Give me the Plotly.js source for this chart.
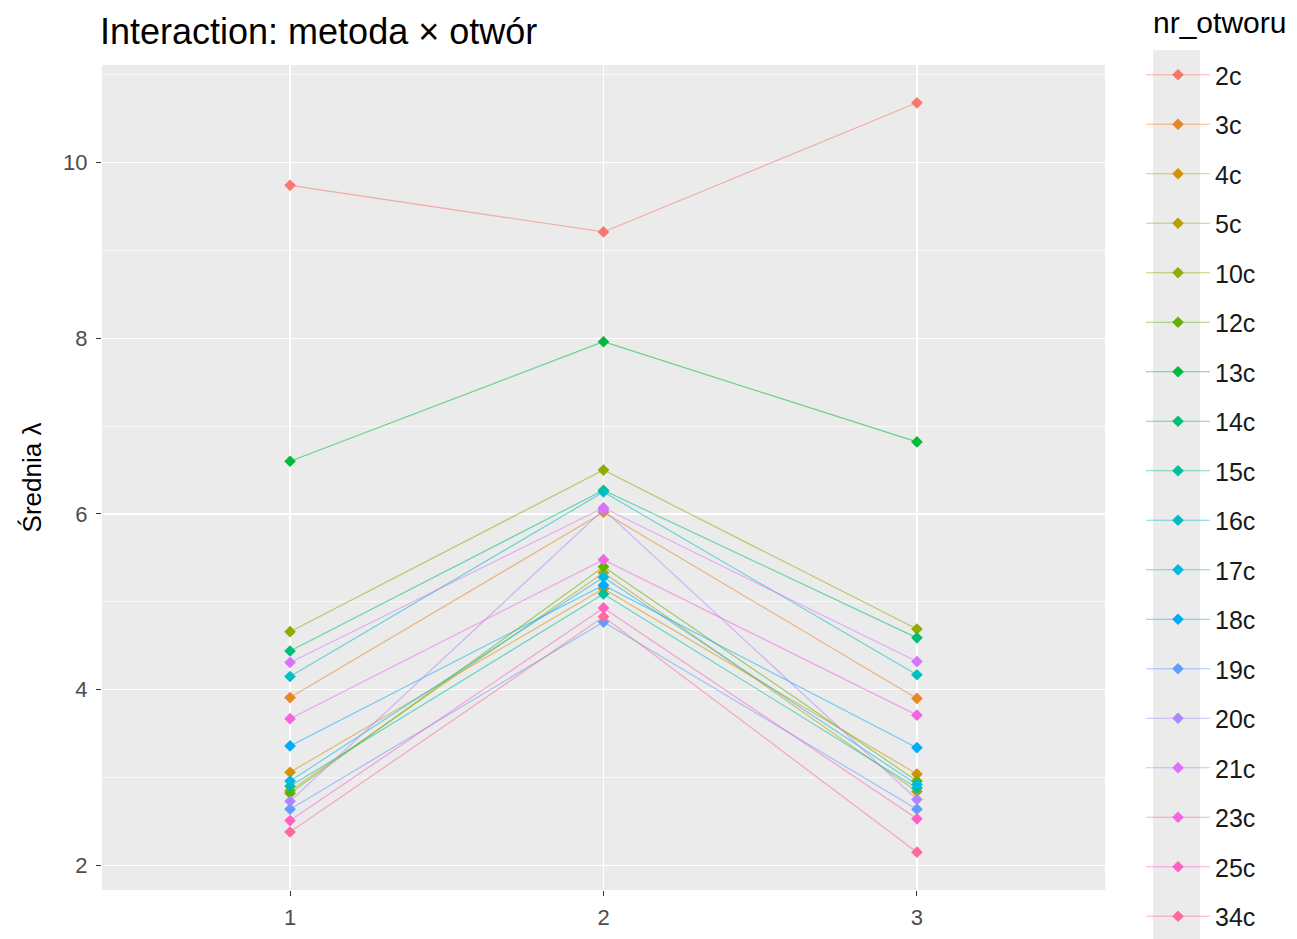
<!DOCTYPE html>
<html>
<head>
<meta charset="utf-8">
<script src="https://cdn.plot.ly/plotly-3.0.1.min.js"></script>
<style>
html,body{margin:0;padding:0;background:#fff;overflow:hidden;}
#chart{width:1297px;height:939px;}
</style>
</head>
<body>
<div id="chart"></div>
<script>
// ---- data ----
const metody = [1, 2, 3];
const otwory = ["2c","3c","4c","5c","10c","12c","13c","14c","15c","16c","17c","18c","19c","20c","21c","23c","25c","34c"];
const s2c  = [9.74, 9.21, 10.68];
const s3c  = [3.91, 6.02, 3.90];
const s4c  = [3.06, 5.15, 3.04];
const s5c  = [2.85, 5.33, 2.84];
const s10c = [4.66, 6.50, 4.69];
const s12c = [2.82, 5.40, 2.96];
const s13c = [6.60, 7.96, 6.82];
const s14c = [4.44, 6.27, 4.59];
const s15c = [2.90, 5.09, 2.88];
const s16c = [4.15, 6.25, 4.17];
const s17c = [2.96, 5.28, 2.92];
const s18c = [3.36, 5.19, 3.34];
const s19c = [2.64, 4.77, 2.64];
const s20c = [2.73, 6.05, 2.75];
const s21c = [4.31, 6.07, 4.32];
const s23c = [3.67, 5.48, 3.71];
const s25c = [2.51, 4.93, 2.53];
const s34c = [2.38, 4.83, 2.15];
const series = [s2c,s3c,s4c,s5c,s10c,s12c,s13c,s14c,s15c,s16c,s17c,s18c,s19c,s20c,s21c,s23c,s25c,s34c];

// ggplot-like hue palette (HCL, c=100, l=65)
function hcl(h, c, l) {
  const hr = h * Math.PI / 180;
  const U = c * Math.cos(hr), V = c * Math.sin(hr);
  const Xn = 95.047, Yn = 100, Zn = 108.883;
  const den = Xn + 15 * Yn + 3 * Zn;
  const un = 4 * Xn / den, vn = 9 * Yn / den;
  const Y = Yn * Math.pow((l + 16) / 116, 3);
  const u = U / (13 * l) + un, v = V / (13 * l) + vn;
  const X = 9 * Y * u / (4 * v);
  const Z = -X / 3 - 5 * Y + 3 * Y / v;
  const x = X / 100, y = Y / 100, z = Z / 100;
  let r = 3.240479 * x - 1.537150 * y - 0.498535 * z;
  let g = -0.969256 * x + 1.875992 * y + 0.041556 * z;
  let b = 0.055648 * x - 0.204043 * y + 1.057311 * z;
  const gam = t => { t = t <= 0.0031308 ? 12.92 * t : 1.055 * Math.pow(t, 1 / 2.4) - 0.055; return Math.round(Math.min(1, Math.max(0, t)) * 255); };
  return [gam(r), gam(g), gam(b)];
}

const traces = otwory.map((name, i) => {
  const [r, g, b] = hcl(15 + 20 * i, 100, 65);
  return {
    type: 'scatter',
    mode: 'lines+markers',
    name: name,
    legendgroup: name,
    x: metody,
    y: series[i],
    line: { color: `rgba(${r},${g},${b},0.55)`, width: 1.2 },
    marker: { color: `rgb(${r},${g},${b})`, symbol: 'diamond', size: 9 },
    cliponaxis: false
  };
});

const layout = {
  width: 1297, height: 939,
  paper_bgcolor: '#ffffff',
  plot_bgcolor: '#EBEBEB',
  margin: { l: 102, r: 192, t: 65, b: 49 },
  font: { family: 'Liberation Sans, Arial, sans-serif', color: '#1a1a1a' },
  title: {
    text: 'Interaction: metoda × otwór',
    font: { size: 36, color: '#000000' },
    x: 100 / 1297, xanchor: 'left', xref: 'container',
    y: 1 - 31 / 939, yref: 'container', yanchor: 'middle'
  },
  xaxis: {
    range: [0.4, 3.6],
    tickvals: metody,
    ticktext: metody.map(String),
    showgrid: true, gridcolor: '#ffffff', gridwidth: 1.4,
    zeroline: false, showline: false,
    ticks: 'outside', ticklen: 5, tickcolor: '#333333', tickwidth: 1,
    ticklabelstandoff: 3,
    tickfont: { size: 22, color: '#4D4D4D' },
    title: { text: '' }
  },
  yaxis: {
    range: [1.72, 11.11],
    tickvals: [2, 4, 6, 8, 10],
    showgrid: true, gridcolor: '#ffffff', gridwidth: 1.4,
    zeroline: false, showline: false,
    ticks: 'outside', ticklen: 5, tickcolor: '#333333', tickwidth: 1,
    ticklabelstandoff: 4,
    tickfont: { size: 22, color: '#4D4D4D' },
    minor: { dtick: 1, tick0: 1, showgrid: true, gridcolor: '#ffffff', gridwidth: 0.7, ticks: '' },
    title: { text: 'Średnia λ', font: { size: 26, color: '#000000' }, standoff: 14 }
  },
  showlegend: true,
  legend: {
    x: (1141 - 102) / 1003, xanchor: 'left',
    y: (890 - 52) / 825, yanchor: 'top',
    font: { size: 25, color: '#1a1a1a' },
    tracegroupgap: 14,
    traceorder: 'grouped',
    bgcolor: 'rgba(0,0,0,0)',
    itemwidth: 64,
    maxheight: 3000
  },
  annotations: [{
    text: 'nr_otworu', xref: 'paper', yref: 'paper',
    x: (1151 - 102) / 1003, xanchor: 'left', y: (890 - 22) / 825, yanchor: 'middle',
    showarrow: false, font: { size: 30, color: '#000000' }
  }],
  shapes: [{
    type: 'rect', xref: 'paper', yref: 'paper', layer: 'below',
    x0: (1153 - 102) / 1003, x1: (1200 - 102) / 1003,
    y0: -0.1, y1: (890 - 50) / 825,
    fillcolor: '#EBEBEB', line: { width: 0 }
  }]
};

Plotly.newPlot('chart', traces, layout, { displayModeBar: false, staticPlot: true });
</script>
</body>
</html>
